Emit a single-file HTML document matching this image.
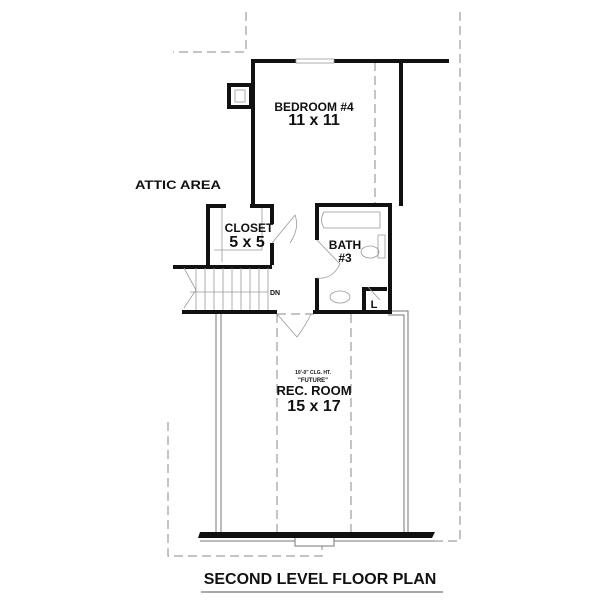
<!DOCTYPE html>
<html><head><style>
body{margin:0;background:#fff;}
svg{display:block;}
text{font-family:"Liberation Sans",Arial,sans-serif;font-weight:bold;fill:#111;text-anchor:middle;}
</style></head><body>
<svg width="600" height="600" viewBox="0 0 600 600">
<g fill="none" stroke="#888" stroke-width="1" stroke-dasharray="9,5">
<path d="M246 12 V52 H173"/>
<path d="M460 12 V541 H432"/>
<path d="M168 422 V556 H322 V546"/>
<path d="M375 62 V205"/>
<path d="M277 314 V534"/>
<path d="M351 314 V534"/>
<path d="M277 314 H317"/>
</g>
<g fill="none" stroke="#777" stroke-width="1">
<path d="M216 313 V532 M221 313 V532"/>
<path d="M388 311 H408 V532 M388 315 H404 V532"/>
<path d="M200 541 H435"/>
<rect x="295" y="537" width="39" height="9" fill="#fff"/>
</g>
<g fill="none" stroke="#111" stroke-width="4">
<path d="M449 61 H253 V206"/>
<path d="M401 61 V206"/>
<path d="M317 240 V205 H390 V312 H317 V278"/>
<path d="M364 312 V289 H387"/>
<path d="M226 206 H208 V265"/>
<path d="M250 206 H272 V224 M272 243 V265"/>
<path d="M173 267 H272"/>
<path d="M182 312 H277"/>
<path d="M313 312 H320"/>
<path d="M229 85 H251 V107 H229 Z"/>
</g>
<rect x="296" y="59" width="38" height="4" fill="#fff" stroke="#999" stroke-width="0.8"/>
<path d="M200 532 H435 L432 538 H198 Z" fill="#111"/>
<g stroke="#999" stroke-width="0.8" fill="none">
<path d="M196 268V310 M205 268V310 M214 268V310 M223 268V310 M232 268V310 M241 268V310 M250 268V310 M259 268V310 M268 268V310"/>
<path d="M184 268 L196 290 L184 308 M190 292 H268"/>
<path d="M272 243 L295 215 Q300 228 290 243"/>
<path d="M317 240 L340 264 Q332 280 317 278"/>
<path d="M277 314 L297 337 Q306 325 311 314"/>
<path d="M222 208 V262 M214 250 H262 M262 208 V250"/>
<path d="M324 212 H380 V228 H324 Q319 220 324 212"/>
<path d="M378 235 V258 H385 V235 Z"/>
<ellipse cx="370" cy="252" rx="9" ry="6"/>
<ellipse cx="340" cy="297" rx="10" ry="6"/>
<rect x="235" y="90" width="10" height="12"/>
<path d="M368 287 L380 300"/>
</g>
<text x="178" y="189" font-size="12" textLength="86" lengthAdjust="spacingAndGlyphs">ATTIC AREA</text>
<text x="314" y="111" font-size="12">BEDROOM #4</text>
<text x="314" y="125" font-size="16">11 x 11</text>
<text x="249" y="232" font-size="12">CLOSET</text>
<text x="247" y="247" font-size="16">5 x 5</text>
<text x="345" y="249" font-size="12">BATH</text>
<text x="345" y="262" font-size="12">#3</text>
<text x="374" y="308" font-size="11">L</text>
<text x="275" y="295" font-size="7">DN</text>
<text x="313" y="374" font-size="5">10'-0" CLG. HT.</text>
<text x="313" y="382" font-size="6">"FUTURE"</text>
<text x="314" y="395" font-size="13">REC. ROOM</text>
<text x="314" y="411" font-size="16">15 x 17</text>
<text x="320" y="584" font-size="16">SECOND LEVEL FLOOR PLAN</text>
<path d="M201 592 H443" stroke="#555" stroke-width="1"/>
</svg>
</body></html>
